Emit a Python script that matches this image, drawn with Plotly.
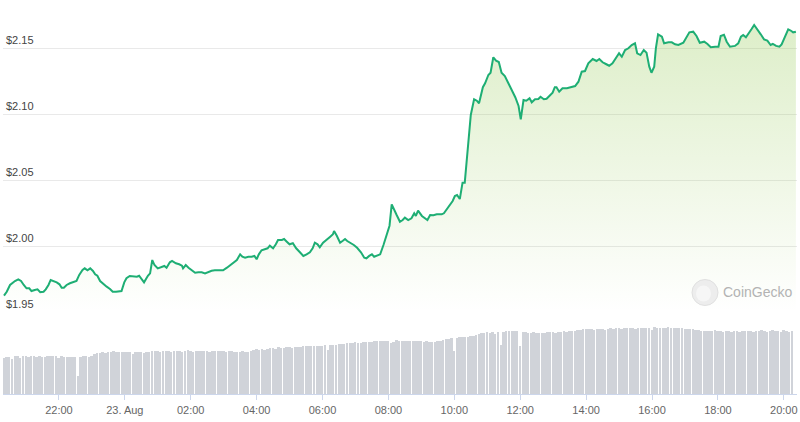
import plotly.graph_objects as go
import pandas as pd

# ---------------- data ----------------
START = "2023-08-22 20:20"

# minutes after START for each traced price point
price_minutes = [
    0, 5, 11, 16, 20, 26, 31, 36, 41, 46, 50, 56, 61, 66, 72, 76, 81, 85, 90, 96,
    101, 105, 109, 114, 120, 126, 132, 137, 143, 147, 152, 157, 162, 166, 170, 175,
    181, 187, 193, 198, 204, 210, 214, 219, 223, 229, 235, 242, 246,
    249, 255, 262, 266, 270, 274, 280, 286, 292, 296, 302, 306, 313, 319, 324, 326,
    331, 336, 342, 348, 354, 360, 366, 372, 378, 384, 393, 399, 406, 412, 418, 424,
    430, 434, 439, 445, 451, 456, 460, 464, 469, 475, 480, 484,
    490, 495, 499, 506, 510, 515, 520, 526, 532, 538, 545, 551, 557, 562, 566, 571,
    575, 581, 588, 594, 599, 601, 606, 612, 617, 621, 625, 631, 637, 643, 650, 656,
    660, 665, 670, 674, 679, 685, 691, 697, 702, 706, 710, 715, 721, 726, 730,
    736, 742, 747, 750, 754, 761, 767, 771, 776, 782,
    788, 797, 801, 806, 812, 817, 821, 825, 830, 835,
    839, 845, 850, 856, 861, 865, 872, 876, 882, 886,
    891, 896, 901, 906, 912, 918, 925, 931, 937, 941,
    946, 951, 957, 961, 967, 973, 977, 983, 988, 994,
    999, 1003, 1006, 1011, 1017, 1025, 1034, 1040, 1046, 1052,
    1058, 1064, 1072, 1079, 1084, 1090, 1096, 1102, 1108, 1114,
    1120, 1125, 1131, 1137, 1143, 1149, 1153, 1159, 1165, 1170,
    1175, 1179, 1184, 1187, 1191, 1198, 1202, 1210, 1216, 1222,
    1228, 1237, 1242, 1248, 1255, 1261, 1267, 1275, 1281, 1287,
    1295, 1301, 1305, 1311, 1316, 1322, 1331, 1337, 1342, 1346,
    1351, 1357, 1361, 1366, 1372, 1378, 1384, 1390, 1396, 1400,
    1406, 1412, 1416, 1422, 1428, 1433, 1437, 1442,
]

price_usd = [
    1.9626, 1.9656, 1.9707, 1.9727, 1.9737, 1.9750, 1.9737, 1.9707, 1.9682, 1.9682,
    1.9661, 1.9669, 1.9674, 1.9652, 1.9656, 1.9674, 1.9707, 1.9745, 1.9737, 1.9727,
    1.9712, 1.9686, 1.9686, 1.9707, 1.9720, 1.9727, 1.9737, 1.9783, 1.9820, 1.9833,
    1.9818, 1.9833, 1.9813, 1.9788, 1.9777, 1.9737, 1.9712, 1.9694, 1.9677, 1.9656,
    1.9656, 1.9656, 1.9661, 1.9727, 1.9758, 1.9775, 1.9775, 1.9770, 1.9777,
    1.9758, 1.9727, 1.9777, 1.9795, 1.9896, 1.9858, 1.9833, 1.9845, 1.9851, 1.9838,
    1.9879, 1.9889, 1.9871, 1.9864, 1.9853, 1.9833, 1.9858, 1.9838, 1.9820, 1.9800,
    1.9803, 1.9803, 1.9795, 1.9808, 1.9815, 1.9818, 1.9818, 1.9818, 1.9838, 1.9858,
    1.9876, 1.9896, 1.9939, 1.9921, 1.9914, 1.9921, 1.9921, 1.9927, 1.9902, 1.9939,
    1.9970, 1.9980, 1.9985, 2.0005,
    1.9985, 2.0015, 2.0048, 2.0048, 2.0055, 2.0035, 2.0015, 2.0023, 1.9985, 1.9959,
    1.9927, 1.9939, 1.9955, 1.9985, 2.0027, 2.0015, 1.9992, 2.0027, 2.0055, 2.0073,
    2.0091, 2.0116, 2.0080, 2.0027, 2.0042, 2.0055, 2.0040, 2.0027, 2.0010, 1.9989,
    1.9955, 1.9914, 1.9909, 1.9927, 1.9939, 1.9921, 1.9927, 1.9939, 2.0010, 2.0091,
    2.0156, 2.0318, 2.0275, 2.0237, 2.0186, 2.0199, 2.0217,
    2.0199, 2.0212, 2.0250, 2.0230, 2.0270, 2.0230, 2.0207, 2.0199, 2.0237, 2.0235,
    2.0242, 2.0242, 2.0250, 2.0280, 2.0320, 2.0343, 2.0381, 2.0389, 2.0358, 2.0482,
    2.0482, 2.0755, 2.0995, 2.1114, 2.1103, 2.1083, 2.1205, 2.1235, 2.1298, 2.1315,
    2.1432, 2.1406, 2.1396, 2.1315, 2.1290, 2.1239, 2.1184, 2.1129, 2.1063, 2.0962,
    2.1108, 2.1103, 2.1121, 2.1091, 2.1114, 2.1116, 2.1133, 2.1114, 2.1118, 2.1146,
    2.1164, 2.1205, 2.1205, 2.1171, 2.1197, 2.1197, 2.1205, 2.1214, 2.1247, 2.1323,
    2.1328, 2.1386, 2.1419, 2.1404, 2.1419, 2.1394, 2.1381, 2.1368, 2.1386, 2.1424,
    2.1462, 2.1436, 2.1487, 2.1500, 2.1525, 2.1538, 2.1462, 2.1449, 2.1487, 2.1467,
    2.1361, 2.1315, 2.1361, 2.1500, 2.1606, 2.1588, 2.1538, 2.1545, 2.1545, 2.1530,
    2.1525, 2.1542, 2.1583, 2.1621, 2.1626, 2.1593, 2.1542, 2.1550, 2.1533, 2.1508,
    2.1512, 2.1512, 2.1593, 2.1603, 2.1550, 2.1512, 2.1518, 2.1538, 2.1588, 2.1601,
    2.1583, 2.1626, 2.1644, 2.1677, 2.1644, 2.1606, 2.1568, 2.1558, 2.1525, 2.1533,
    2.1518, 2.1512, 2.1530, 2.1583, 2.1644, 2.1633, 2.1621, 2.1626,
]

# 5-minute volume bars (relative units), one row per hour
volume_rows = [
    [37, 38, 38, 36, 39, 39, 37, 39, 39, 38, 39, 39],
    [38, 39, 38, 38, 39, 39, 39, 39, 37, 39, 38, 38],
    [38, 38, 38, 19, 38, 39, 39, 38, 39, 41, 42, 42],
    [43, 42, 43, 43, 44, 43, 43, 43, 43, 43, 43, 41],
    [43, 43, 43, 42, 43, 43, 44, 44, 44, 43, 44, 44],
    [44, 43, 44, 44, 44, 43, 44, 45, 44, 43, 44, 44],
    [44, 44, 44, 43, 44, 44, 44, 44, 44, 43, 44, 44],
    [43, 43, 43, 44, 43, 43, 44, 45, 46, 45, 46, 45],
    [46, 47, 47, 46, 48, 47, 47, 48, 48, 47, 48, 48],
    [48, 49, 49, 49, 49, 49, 49, 49, 49, 50, 45, 50],
    [50, 50, 51, 51, 51, 52, 52, 52, 53, 52, 52, 53],
    [53, 53, 53, 54, 54, 54, 54, 54, 54, 52, 53, 55],
    [54, 54, 54, 54, 54, 54, 54, 54, 54, 53, 54, 53],
    [53, 53, 54, 54, 55, 56, 56, 57, 44, 57, 58, 58],
    [58, 58, 59, 59, 60, 61, 62, 62, 63, 62, 63, 61],
    [63, 50, 63, 64, 64, 64, 64, 64, 49, 63, 63, 62],
    [62, 63, 62, 62, 62, 62, 63, 63, 63, 62, 63, 63],
    [64, 63, 64, 64, 64, 65, 65, 66, 66, 66, 66, 65],
    [66, 66, 66, 65, 66, 67, 66, 67, 67, 66, 67, 67],
    [67, 67, 66, 67, 67, 67, 67, 67, 65, 68, 67, 67],
    [67, 67, 68, 67, 67, 67, 67, 67, 66, 66, 66, 66],
    [65, 65, 64, 64, 64, 64, 64, 65, 64, 64, 63, 64],
    [64, 63, 64, 64, 63, 64, 64, 64, 64, 63, 64, 64],
    [65, 64, 63, 64, 65, 64, 64, 63, 65, 64, 63, 64],
]

tick_times = [
    "2023-08-22 22:00", "2023-08-23 00:00", "2023-08-23 02:00", "2023-08-23 04:00",
    "2023-08-23 06:00", "2023-08-23 08:00", "2023-08-23 10:00", "2023-08-23 12:00",
    "2023-08-23 14:00", "2023-08-23 16:00", "2023-08-23 18:00", "2023-08-23 20:00",
]
tick_labels = ["22:00", "23. Aug", "02:00", "04:00", "06:00", "08:00",
               "10:00", "12:00", "14:00", "16:00", "18:00", "20:00"]
price_ticks = [1.95, 2.00, 2.05, 2.10, 2.15]
price_tick_labels = ["$1.95", "$2.00", "$2.05", "$2.10", "$2.15"]

# ---------------- derived series ----------------
t0 = pd.Timestamp(START)
price_times = [t0 + pd.Timedelta(minutes=m) for m in price_minutes]
volume = [v for row in volume_rows for v in row]
volume_times = [t0 + pd.Timedelta(minutes=5 * i) for i in range(len(volume))]

W, H = 800, 422
PX_PER_MIN = 32.95 / 60.0
x_left, x_right = 3, 797
x_start = t0 - pd.Timedelta(minutes=(4 - x_left) / PX_PER_MIN)
x_end = x_start + pd.Timedelta(minutes=(x_right - x_left) / PX_PER_MIN)

PX_PER_USD = 1320.0
y_base_px = 312.3          # pixel row of $1.95
pad = 0.0003
price_lo = price_ticks[0] - pad
price_hi = price_ticks[0] + y_base_px / PX_PER_USD
price_dom_bottom = (H - y_base_px - pad * PX_PER_USD) / H

vol_base_px = 394.3
vol_dom = [(H - vol_base_px) / H, price_dom_bottom]
vol_range_top = (vol_dom[1] - vol_dom[0]) * H

FONT = "Liberation Sans, Arial, sans-serif"

fig = go.Figure()

fig.add_trace(go.Bar(
    x=volume_times, y=volume, yaxis="y2",
    marker=dict(color="#d0d3d9", line=dict(width=0)),
    width=3.5 * 60 * 1000, hoverinfo="skip", showlegend=False,
))

fig.add_trace(go.Scatter(
    x=price_times, y=price_usd, mode="lines",
    line=dict(color="rgb(30,174,116)", width=2),
    fill="tozeroy",
    fillgradient=dict(
        type="vertical",
        colorscale=[[0, "rgba(141,198,71,0.0)"], [1, "rgba(141,198,71,0.32)"]],
        start=price_ticks[0], stop=price_hi,
    ),
    showlegend=False,
))

def px(x, y):
    return x / W, 1 - y / H

# CoinGecko watermark
cx, cy, r = 705, 292.5, 13
x0p, y0p = px(cx - r, cy + r)
x1p, y1p = px(cx + r, cy - r)
fig.add_shape(type="circle", xref="paper", yref="paper",
              x0=x0p, y0=y0p, x1=x1p, y1=y1p,
              fillcolor="#ededed", line=dict(color="#e0e0e0", width=1), layer="above")
hx0, hy0 = px(cx - 9, cy + 9)
hx1, hy1 = px(cx + 6, cy - 7)
fig.add_shape(type="circle", xref="paper", yref="paper",
              x0=hx0, y0=hy0, x1=hx1, y1=hy1,
              fillcolor="#f6f6f6", line=dict(width=0), layer="above")
tx, ty = px(757, 291.5)
fig.add_annotation(text="CoinGecko", xref="paper", yref="paper", x=tx, y=ty,
                   showarrow=False, xanchor="center", yanchor="middle",
                   font=dict(family=FONT, size=14, color="#b3b3b3"))

fig.update_layout(
    width=W, height=H,
    margin=dict(l=0, r=0, t=0, b=0),
    paper_bgcolor="white", plot_bgcolor="white",
    showlegend=False,
    bargap=0,
    xaxis=dict(
        domain=[x_left / W, x_right / W],
        range=[x_start, x_end],
        type="date",
        anchor="y2",
        showgrid=False, zeroline=False,
        showline=True, linecolor="#ccd6eb", linewidth=1,
        ticks="outside", ticklen=5, tickcolor="#ccd6eb", tickwidth=1,
        tickvals=tick_times, ticktext=tick_labels,
        tickfont=dict(family=FONT, size=11, color="#666666"),
    ),
    yaxis=dict(
        domain=[price_dom_bottom, 1],
        range=[price_lo, price_hi],
        tickvals=price_ticks, ticktext=price_tick_labels,
        ticklabelposition="inside top",
        tickfont=dict(family=FONT, size=11, color="#444444"),
        showgrid=True, gridcolor="#e9e9e9", gridwidth=1,
        zeroline=False, showline=False, ticks="",
    ),
    yaxis2=dict(
        domain=vol_dom,
        range=[0, vol_range_top],
        visible=False,
    ),
)

fig.write_html("out.html", config={"displayModeBar": False})
